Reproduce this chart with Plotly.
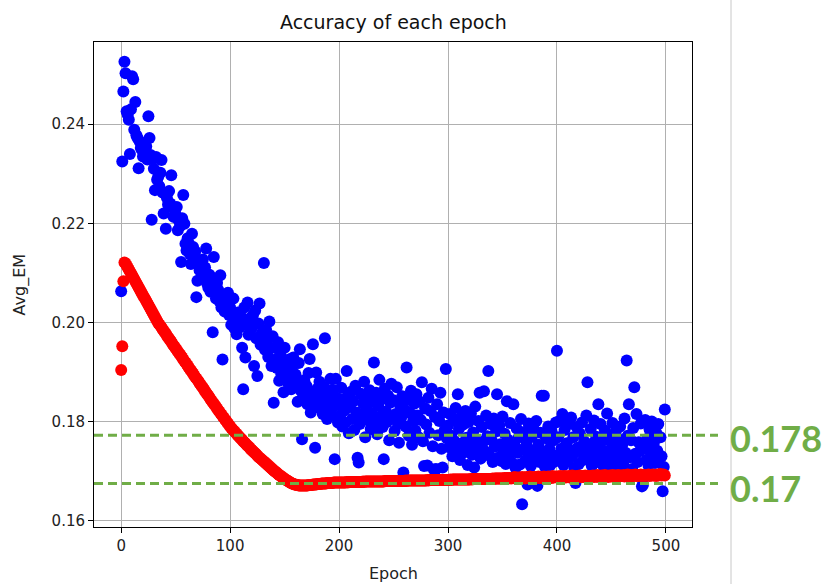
import plotly.graph_objects as go

EPOCHS = list(range(500))

BLUE_EM = [
    0.2063, 0.2325, 0.2466, 0.2526, 0.2503, 0.2426, 0.2419, 0.2409, 0.2340, 0.2430,
    0.2497, 0.2491, 0.2389, 0.2445, 0.2378, 0.2372, 0.2311, 0.2365, 0.2352, 0.2348,
    0.2335, 0.2355, 0.2342, 0.2355, 0.2329, 0.2416, 0.2372, 0.2338, 0.2207, 0.2330,
    0.2310, 0.2267, 0.2334, 0.2288, 0.2294, 0.2275, 0.2302, 0.2328, 0.2262, 0.2220,
    0.2260, 0.2189, 0.2251, 0.2238, 0.2265, 0.2240, 0.2297, 0.2232, 0.2213, 0.2228,
    0.2218, 0.2233, 0.2186, 0.2205, 0.2194, 0.2122, 0.2210, 0.2257, 0.2199, 0.2159,
    0.2145, 0.2170, 0.2160, 0.2138, 0.2118, 0.2179, 0.2152, 0.2131, 0.2143, 0.2051,
    0.2084, 0.2120, 0.2105, 0.2118, 0.2098, 0.2127, 0.2090, 0.2111, 0.2149, 0.2078,
    0.2070, 0.2096, 0.2062, 0.2085, 0.1980, 0.2132, 0.2074, 0.2048, 0.2080, 0.2066,
    0.2043, 0.2095, 0.2030, 0.1925, 0.2051, 0.2022, 0.2045, 0.2037, 0.2060, 0.2015,
    0.2030, 0.1995, 0.2012, 0.2048, 0.1988, 0.2005, 0.1976, 0.2020, 0.2002, 0.1990,
    0.2012, 0.1949, 0.1865, 0.2030, 0.1929, 0.1996, 0.2040, 0.1975, 0.2008, 0.1985,
    0.1990, 0.2015, 0.1912, 0.2024, 0.1968, 0.1892, 0.1998, 0.2038, 0.1955, 0.1978,
    0.1962, 0.2120, 0.1945, 0.1985, 0.1966, 0.1930, 0.2002, 0.1948, 0.1912, 0.1972,
    0.1838, 0.1949, 0.1925, 0.1908, 0.1960, 0.1882, 0.1936, 0.1895, 0.1918, 0.1859,
    0.1949, 0.1902, 0.1912, 0.1878, 0.1925, 0.1890, 0.1865, 0.1911, 0.1929, 0.1872,
    0.1895, 0.1875, 0.1840, 0.1918, 0.1946, 0.1862, 0.1764, 0.1855, 0.1883, 0.1850,
    0.1872, 0.1835, 0.1898, 0.1926, 0.1818, 0.1860, 0.1956, 0.1845, 0.1747, 0.1899,
    0.1866, 0.1828, 0.1880, 0.1838, 0.1852, 0.1815, 0.1870, 0.1968, 0.1826, 0.1805,
    0.1858, 0.1842, 0.1886, 0.1812, 0.1864, 0.1830, 0.1724, 0.1886, 0.1848, 0.1798,
    0.1835, 0.1812, 0.1868, 0.1790, 0.1845, 0.1822, 0.1798, 0.1902, 0.1851, 0.1776,
    0.1829, 0.1860, 0.1805, 0.1841, 0.1783, 0.1872, 0.1818, 0.1727, 0.1717, 0.1795,
    0.1856, 0.1808, 0.1837, 0.1880, 0.1768, 0.1826, 0.1849, 0.1802, 0.1863, 0.1785,
    0.1817, 0.1840, 0.1919, 0.1796, 0.1858, 0.1774, 0.1831, 0.1884, 0.1810, 0.1845,
    0.1789, 0.1724, 0.1866, 0.1820, 0.1799, 0.1852, 0.1762, 0.1838, 0.1876, 0.1806,
    0.1843, 0.1781, 0.1815, 0.1869, 0.1796, 0.1757, 0.1833, 0.1808, 0.1851, 0.1697,
    0.1824, 0.1790, 0.1909, 0.1845, 0.1771, 0.1817, 0.1862, 0.1753, 0.1801, 0.1836,
    0.1782, 0.1855, 0.1812, 0.1768, 0.1840, 0.1803, 0.1879, 0.1760, 0.1710, 0.1826,
    0.1794, 0.1711, 0.1848, 0.1777, 0.1821, 0.1866, 0.1750, 0.1703, 0.1809, 0.1704,
    0.1835, 0.1772, 0.1801, 0.1858, 0.1745, 0.1707, 0.1818, 0.1783, 0.1906, 0.1766,
    0.1792, 0.1748, 0.1815, 0.1771, 0.1730, 0.1802, 0.1760, 0.1827, 0.1741, 0.1855,
    0.1785, 0.1722, 0.1809, 0.1756, 0.1794, 0.1738, 0.1821, 0.1767, 0.1712, 0.1799,
    0.1752, 0.1816, 0.1733, 0.1778, 0.1707, 0.1830, 0.1764, 0.1745, 0.1801, 0.1858,
    0.1725, 0.1789, 0.1758, 0.1861, 0.1740, 0.1812, 0.1770, 0.1902, 0.1731, 0.1795,
    0.1762, 0.1718, 0.1806, 0.1749, 0.1780, 0.1855, 0.1727, 0.1792, 0.1754, 0.1720,
    0.1810, 0.1742, 0.1775, 0.1714, 0.1841, 0.1763, 0.1729, 0.1797, 0.1748, 0.1716,
    0.1835, 0.1752, 0.1706, 0.1786, 0.1737, 0.1768, 0.1713, 0.1805, 0.1633, 0.1744,
    0.1779, 0.1721, 0.1758, 0.1673, 0.1796, 0.1735, 0.1710, 0.1769, 0.1742, 0.1784,
    0.1726, 0.1801, 0.1670, 0.1753, 0.1718, 0.1777, 0.1852, 0.1739, 0.1852, 0.1708,
    0.1766, 0.1724, 0.1790, 0.1745, 0.1712, 0.1781, 0.1733, 0.1762, 0.1719, 0.1798,
    0.1943, 0.1768, 0.1729, 0.1802, 0.1745, 0.1815, 0.1712, 0.1783, 0.1738, 0.1756,
    0.1721, 0.1795, 0.1742, 0.1808, 0.1730, 0.1768, 0.1705, 0.1676, 0.1789, 0.1747,
    0.1714, 0.1776, 0.1739, 0.1798, 0.1722, 0.1760, 0.1733, 0.1812, 0.1879, 0.1748,
    0.1727, 0.1785, 0.1710, 0.1756, 0.1802, 0.1736, 0.1769, 0.1718, 0.1835, 0.1744,
    0.1795, 0.1725, 0.1761, 0.1708, 0.1782, 0.1740, 0.1816, 0.1730, 0.1772, 0.1713,
    0.1758, 0.1797, 0.1720, 0.1744, 0.1780, 0.1709, 0.1765, 0.1733, 0.1790, 0.1726,
    0.1754, 0.1712, 0.1806, 0.1737, 0.1923, 0.1771, 0.1835, 0.1728, 0.1762, 0.1704,
    0.1787, 0.1869, 0.1735, 0.1815, 0.1718, 0.1758, 0.1740, 0.1796, 0.1669, 0.1673,
    0.1749, 0.1803, 0.1722, 0.1765, 0.1711, 0.1784, 0.1738, 0.1800, 0.1729, 0.1757,
    0.1716, 0.1778, 0.1741, 0.1795, 0.1725, 0.1768, 0.1730, 0.1659, 0.1708, 0.1824,
]

RED_EM = [
    0.1904, 0.1952, 0.2083, 0.2121, 0.2119, 0.2115, 0.2111, 0.2107, 0.2103, 0.2099,
    0.2095, 0.2091, 0.2087, 0.2083, 0.2079, 0.2075, 0.2071, 0.2067, 0.2063, 0.2059,
    0.2055, 0.2051, 0.2047, 0.2043, 0.2039, 0.2035, 0.2031, 0.2027, 0.2023, 0.2019,
    0.2015, 0.2011, 0.2007, 0.2003, 0.1999, 0.1996, 0.1993, 0.1990, 0.1986, 0.1983,
    0.1980, 0.1977, 0.1973, 0.1970, 0.1967, 0.1964, 0.1961, 0.1957, 0.1954, 0.1951,
    0.1948, 0.1945, 0.1941, 0.1938, 0.1935, 0.1932, 0.1929, 0.1925, 0.1922, 0.1919,
    0.1916, 0.1913, 0.1909, 0.1906, 0.1903, 0.1900, 0.1897, 0.1893, 0.1890, 0.1887,
    0.1884, 0.1881, 0.1877, 0.1874, 0.1871, 0.1868, 0.1865, 0.1861, 0.1858, 0.1855,
    0.1852, 0.1849, 0.1845, 0.1842, 0.1839, 0.1836, 0.1833, 0.1830, 0.1826, 0.1823,
    0.1820, 0.1817, 0.1814, 0.1811, 0.1808, 0.1805, 0.1802, 0.1799, 0.1796, 0.1793,
    0.1790, 0.1787, 0.1785, 0.1782, 0.1780, 0.1777, 0.1775, 0.1772, 0.1770, 0.1767,
    0.1765, 0.1763, 0.1760, 0.1758, 0.1756, 0.1753, 0.1751, 0.1749, 0.1747, 0.1744,
    0.1742, 0.1740, 0.1738, 0.1736, 0.1734, 0.1731, 0.1729, 0.1727, 0.1725, 0.1723,
    0.1721, 0.1719, 0.1717, 0.1715, 0.1713, 0.1711, 0.1709, 0.1707, 0.1705, 0.1703,
    0.1701, 0.1699, 0.1698, 0.1696, 0.1694, 0.1692, 0.1691, 0.1689, 0.1687, 0.1686,
    0.1684, 0.1683, 0.1681, 0.1680, 0.1679, 0.1677, 0.1676, 0.1675, 0.1674, 0.1673,
    0.1673, 0.1672, 0.1672, 0.1671, 0.1671, 0.1671, 0.1671, 0.1671, 0.1671, 0.1671,
    0.1671, 0.1671, 0.1672, 0.1672, 0.1672, 0.1672, 0.1673, 0.1673, 0.1673, 0.1673,
    0.1674, 0.1674, 0.1674, 0.1674, 0.1675, 0.1675, 0.1675, 0.1675, 0.1675, 0.1676,
    0.1676, 0.1676, 0.1676, 0.1676, 0.1676, 0.1677, 0.1677, 0.1677, 0.1677, 0.1677,
    0.1677, 0.1677, 0.1677, 0.1677, 0.1677, 0.1677, 0.1677, 0.1678, 0.1677, 0.1678,
    0.1678, 0.1678, 0.1678, 0.1678, 0.1678, 0.1678, 0.1678, 0.1678, 0.1678, 0.1678,
    0.1678, 0.1678, 0.1679, 0.1678, 0.1679, 0.1679, 0.1679, 0.1679, 0.1679, 0.1679,
    0.1679, 0.1679, 0.1679, 0.1679, 0.1679, 0.1679, 0.1679, 0.1679, 0.1679, 0.1679,
    0.1679, 0.1679, 0.1680, 0.1680, 0.1680, 0.1680, 0.1680, 0.1680, 0.1680, 0.1680,
    0.1680, 0.1680, 0.1680, 0.1680, 0.1680, 0.1680, 0.1680, 0.1680, 0.1680, 0.1680,
    0.1680, 0.1681, 0.1680, 0.1681, 0.1681, 0.1681, 0.1681, 0.1681, 0.1681, 0.1681,
    0.1681, 0.1681, 0.1681, 0.1681, 0.1681, 0.1681, 0.1681, 0.1681, 0.1681, 0.1681,
    0.1681, 0.1682, 0.1681, 0.1682, 0.1682, 0.1682, 0.1682, 0.1682, 0.1682, 0.1682,
    0.1682, 0.1682, 0.1682, 0.1682, 0.1682, 0.1682, 0.1682, 0.1682, 0.1682, 0.1682,
    0.1682, 0.1682, 0.1683, 0.1682, 0.1683, 0.1683, 0.1683, 0.1683, 0.1683, 0.1683,
    0.1683, 0.1683, 0.1683, 0.1683, 0.1683, 0.1683, 0.1683, 0.1683, 0.1683, 0.1683,
    0.1683, 0.1684, 0.1683, 0.1684, 0.1684, 0.1684, 0.1684, 0.1684, 0.1684, 0.1684,
    0.1684, 0.1684, 0.1684, 0.1684, 0.1684, 0.1684, 0.1684, 0.1684, 0.1684, 0.1684,
    0.1684, 0.1685, 0.1684, 0.1685, 0.1685, 0.1685, 0.1685, 0.1685, 0.1685, 0.1685,
    0.1685, 0.1685, 0.1686, 0.1685, 0.1686, 0.1685, 0.1686, 0.1686, 0.1685, 0.1686,
    0.1686, 0.1688, 0.1685, 0.1686, 0.1687, 0.1685, 0.1687, 0.1686, 0.1688, 0.1686,
    0.1687, 0.1685, 0.1688, 0.1686, 0.1687, 0.1689, 0.1686, 0.1687, 0.1685, 0.1688,
    0.1686, 0.1688, 0.1687, 0.1689, 0.1686, 0.1688, 0.1687, 0.1686, 0.1689, 0.1687,
    0.1688, 0.1686, 0.1689, 0.1687, 0.1688, 0.1686, 0.1690, 0.1687, 0.1688, 0.1689,
    0.1687, 0.1689, 0.1688, 0.1690, 0.1687, 0.1689, 0.1688, 0.1690, 0.1687, 0.1689,
    0.1688, 0.1690, 0.1687, 0.1689, 0.1691, 0.1688, 0.1689, 0.1687, 0.1690, 0.1688,
    0.1689, 0.1691, 0.1688, 0.1690, 0.1688, 0.1689, 0.1691, 0.1688, 0.1690, 0.1689,
    0.1688, 0.1690, 0.1689, 0.1691, 0.1688, 0.1690, 0.1689, 0.1692, 0.1688, 0.1690,
    0.1689, 0.1691, 0.1689, 0.1690, 0.1692, 0.1689, 0.1690, 0.1688, 0.1691, 0.1690,
    0.1689, 0.1692, 0.1690, 0.1691, 0.1689, 0.1690, 0.1692, 0.1689, 0.1691, 0.1690,
    0.1690, 0.1692, 0.1689, 0.1691, 0.1690, 0.1693, 0.1690, 0.1691, 0.1689, 0.1692,
    0.1690, 0.1691, 0.1693, 0.1690, 0.1692, 0.1690, 0.1691, 0.1693, 0.1690, 0.1692,
    0.1691, 0.1690, 0.1692, 0.1691, 0.1693, 0.1690, 0.1692, 0.1691, 0.1693, 0.1691,
    0.1692, 0.1690, 0.1693, 0.1691, 0.1692, 0.1694, 0.1691, 0.1692, 0.1693, 0.1691,
]

X_TICKS = [0, 100, 200, 300, 400, 500]
Y_TICKS = [0.16, 0.18, 0.20, 0.22, 0.24]
REF_LINES = [0.1772, 0.1675]
REF_LABELS = ["0.178", "0.17"]

TITLE = "Accuracy of each epoch"
X_LABEL = "Epoch"
Y_LABEL = "Avg_EM"

GREEN = "#70AD47"
FONT = "DejaVu Sans"

fig = go.Figure()
fig.add_trace(go.Scatter(
    x=EPOCHS, y=BLUE_EM, mode="markers",
    marker=dict(color="#0000FF", size=12, line=dict(width=0)),
    hoverinfo="skip", showlegend=False,
))
fig.add_trace(go.Scatter(
    x=EPOCHS, y=RED_EM, mode="markers",
    marker=dict(color="#FF0000", size=12, line=dict(width=0)),
    hoverinfo="skip", showlegend=False,
))

# geometry (pixels)
W, H = 827, 584
L, R, T, B = 94, 692, 42, 527
def px_x(p):
    return (p - L) / (R - L)
def px_y(p):
    return (B - p) / (B - T)

shapes = []
for v in REF_LINES:
    shapes.append(dict(
        type="line", xref="paper", yref="y",
        x0=0, x1=px_x(718), y0=v, y1=v,
        line=dict(color=GREEN, width=3, dash="9px,5px"),
        layer="above",
    ))
shapes.append(dict(
    type="line", xref="paper", yref="paper",
    x0=px_x(731), x1=px_x(731), y0=px_y(584), y1=px_y(0),
    line=dict(color="#c8c8c8", width=1),
))

annotations = []
for v, txt, ypx in zip(REF_LINES, REF_LABELS, [438, 488]):
    annotations.append(dict(
        xref="paper", yref="paper", x=px_x(728), y=px_y(ypx),
        xanchor="left", yanchor="middle", showarrow=False,
        text="<b>" + txt + "</b>",
        font=dict(family="Lato", size=36, color=GREEN),
    ))
annotations.append(dict(
    xref="paper", yref="paper", x=0.5, y=px_y(22),
    xanchor="center", yanchor="middle", showarrow=False,
    text=TITLE, font=dict(family=FONT, size=19, color="#111111"),
))
annotations.append(dict(
    xref="paper", yref="paper", x=0.5, y=px_y(573),
    xanchor="center", yanchor="middle", showarrow=False,
    text=X_LABEL, font=dict(family=FONT, size=16, color="#222222"),
))
annotations.append(dict(
    xref="paper", yref="paper", x=px_x(19), y=0.5,
    xanchor="center", yanchor="middle", showarrow=False, textangle=-90,
    text=Y_LABEL, font=dict(family=FONT, size=16, color="#222222"),
))

axis_common = dict(
    showline=True, linecolor="black", linewidth=1, mirror=True,
    ticks="outside", ticklen=5, tickcolor="black", tickwidth=1,
    showgrid=True, gridcolor="#b0b0b0", gridwidth=1,
    zeroline=False, automargin=False,
    tickfont=dict(family=FONT, size=15, color="#222222"),
)

fig.update_layout(
    width=W, height=H,
    margin=dict(l=L, r=W - R, t=T, b=H - B, autoexpand=False),
    paper_bgcolor="white", plot_bgcolor="white",
    shapes=shapes, annotations=annotations,
    xaxis=dict(
        range=[-24.95, 523.95], tickvals=X_TICKS,
        ticktext=[str(t) for t in X_TICKS],
        **axis_common,
    ),
    yaxis=dict(
        range=[0.1587, 0.2566], tickvals=Y_TICKS,
        ticktext=["%.2f" % t for t in Y_TICKS],
        **axis_common,
    ),
    showlegend=False,
)

fig.write_html(
    "out.html",
    config={"displayModeBar": False},
    post_script="document.body.style.margin='0';",
)
